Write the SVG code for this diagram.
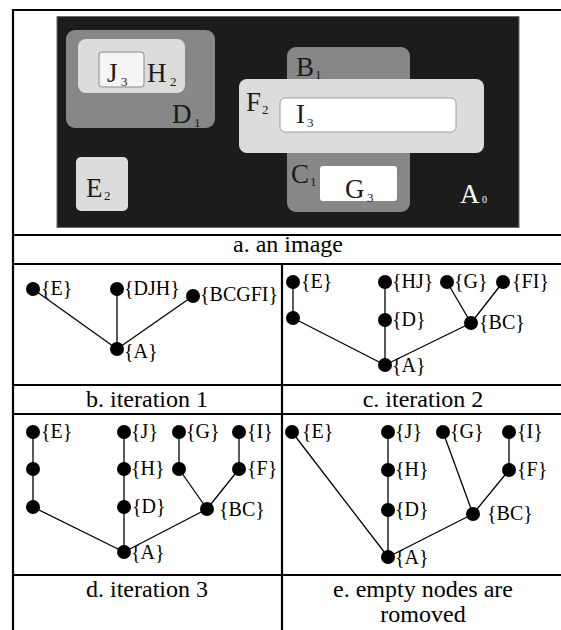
<svg xmlns="http://www.w3.org/2000/svg" width="561" height="630" viewBox="0 0 561 630">
<style>
  .grid { stroke: #000; stroke-width: 2.2; fill: none; }
  .edge { stroke: #000; stroke-width: 1.3; fill: none; }
  .node circle { fill: #000; }
  .lbl { font-family: "Liberation Serif", "DejaVu Serif", serif; font-size: 20px; fill: #000; }
  .cap { font-family: "Liberation Serif", "DejaVu Serif", serif; font-size: 24px; fill: #000; text-anchor: middle; }
  .reg { font-family: "Liberation Serif", "DejaVu Serif", serif; font-size: 27px; fill: #1a1a1a; }
  .sub { font-family: "Liberation Serif", "DejaVu Serif", serif; font-size: 13px; fill: #1a1a1a; }
  .gray { fill: #878787; }
  .light { fill: #dcdcdc; }
</style>
<rect width="561" height="630" fill="#fff"/>

<!-- table grid -->
<g id="table" class="grid">
  <line x1="13" y1="10" x2="561" y2="10"/>
  <line x1="13" y1="9" x2="13" y2="630"/>
  <line x1="13" y1="235" x2="561" y2="235"/>
  <line x1="13" y1="264" x2="561" y2="264"/>
  <line x1="13" y1="385" x2="561" y2="385"/>
  <line x1="13" y1="414" x2="561" y2="414"/>
  <line x1="13" y1="575" x2="561" y2="575"/>
  <line x1="282" y1="264" x2="282" y2="630"/>
</g>

<!-- segmented image with nested regions -->
<g id="image">
  <rect x="57" y="16.5" width="462" height="211" fill="#1c1c1c" stroke="#6a6a6a" stroke-width="1"/>
  <rect class="gray" x="66" y="30" width="149" height="98" rx="9"/>
  <rect class="light" x="78" y="39" width="107" height="54" rx="8"/>
  <rect x="99" y="52" width="45" height="35" rx="3" fill="#f4f4f4" stroke="#8a8a8a" stroke-width="1"/>
  <rect class="light" x="76" y="157" width="52" height="54" rx="5"/>
  <rect class="gray" x="287" y="47" width="123" height="165" rx="9"/>
  <rect class="light" x="239" y="79" width="245" height="74" rx="8"/>
  <rect x="280" y="98" width="176" height="34" rx="5" fill="#fff" stroke="#a0a0a0" stroke-width="1"/>
  <rect x="320" y="166" width="77" height="35" rx="3" fill="#fff"/>

  <text class="reg" x="107" y="82">J</text><text class="sub" x="121" y="86">3</text>
  <text class="reg" x="147" y="82">H</text><text class="sub" x="170" y="86">2</text>
  <text class="reg" x="172" y="123">D</text><text class="sub" x="194" y="127">1</text>
  <text class="reg" x="296" y="76">B</text><text class="sub" x="315" y="79">1</text>
  <text class="reg" x="246" y="111">F</text><text class="sub" x="262" y="114">2</text>
  <text class="reg" x="296" y="123">I</text><text class="sub" x="307" y="127">3</text>
  <text class="reg" x="291" y="183">C</text><text class="sub" x="310" y="186">1</text>
  <text class="reg" x="345" y="198">G</text><text class="sub" x="367" y="202">3</text>
  <text class="reg" x="86" y="197">E</text><text class="sub" x="104" y="200">2</text>
  <text class="reg" x="460" y="203" style="fill:#fff">A</text><text class="sub" x="482" y="203" style="fill:#fff;font-size:10px">0</text>
</g>

<!-- captions -->
<g id="captions">
  <text class="cap" x="288" y="252">a. an image</text>
  <text class="cap" x="147" y="407">b. iteration 1</text>
  <text class="cap" x="423" y="407">c. iteration 2</text>
  <text class="cap" x="147" y="597">d. iteration 3</text>
  <text class="cap" x="423" y="597">e. empty nodes are</text>
  <text class="cap" x="423" y="622">romoved</text>
</g>

<!-- tree edges -->
<g id="connectors" class="edge">
  <!-- b -->
  <line x1="33" y1="289" x2="117" y2="349"/>
  <line x1="117" y1="289" x2="117" y2="349"/>
  <line x1="193" y1="296" x2="117" y2="349"/>
  <!-- c -->
  <line x1="293" y1="282" x2="293" y2="318"/>
  <line x1="293" y1="318" x2="385" y2="365"/>
  <line x1="385" y1="282" x2="385" y2="365"/>
  <line x1="447" y1="282" x2="471" y2="323"/>
  <line x1="503" y1="282" x2="471" y2="323"/>
  <line x1="471" y1="323" x2="385" y2="365"/>
  <!-- d -->
  <line x1="33" y1="432" x2="33" y2="507"/>
  <line x1="33" y1="507" x2="124" y2="552"/>
  <line x1="124" y1="432" x2="124" y2="552"/>
  <line x1="179" y1="432" x2="179" y2="469"/>
  <line x1="179" y1="469" x2="207" y2="509"/>
  <line x1="239" y1="432" x2="239" y2="469"/>
  <line x1="239" y1="469" x2="207" y2="509"/>
  <line x1="207" y1="509" x2="124" y2="552"/>
  <!-- e -->
  <line x1="292" y1="432" x2="388" y2="557"/>
  <line x1="388" y1="432" x2="388" y2="557"/>
  <line x1="443" y1="432" x2="473" y2="514"/>
  <line x1="509" y1="432" x2="509" y2="470"/>
  <line x1="509" y1="470" x2="473" y2="514"/>
  <line x1="473" y1="514" x2="388" y2="557"/>
</g>

<!-- b. iteration 1 -->
<g id="tree-b" class="node">
  <g id="b-E"><circle cx="33" cy="289" r="7"/><text class="lbl" x="41" y="295">{E}</text></g>
  <g id="b-DJH"><circle cx="117" cy="289" r="7"/><text class="lbl" x="124" y="295">{DJH}</text></g>
  <g id="b-BCGFI"><circle cx="193" cy="296" r="7"/><text class="lbl" x="200" y="301">{BCGFI}</text></g>
  <g id="b-A"><circle cx="117" cy="349" r="7"/><text class="lbl" x="124" y="358">{A}</text></g>
</g>

<!-- c. iteration 2 -->
<g id="tree-c" class="node">
  <g id="c-E"><circle cx="293" cy="282" r="7"/><text class="lbl" x="301" y="288">{E}</text></g>
  <g id="c-e1"><circle cx="293" cy="318" r="7"/></g>
  <g id="c-HJ"><circle cx="385" cy="282" r="7"/><text class="lbl" x="392" y="288">{HJ}</text></g>
  <g id="c-D"><circle cx="385" cy="320" r="7"/><text class="lbl" x="392" y="326">{D}</text></g>
  <g id="c-G"><circle cx="447" cy="282" r="7"/><text class="lbl" x="454" y="288">{G}</text></g>
  <g id="c-FI"><circle cx="503" cy="282" r="7"/><text class="lbl" x="512" y="288">{FI}</text></g>
  <g id="c-BC"><circle cx="471" cy="323" r="7"/><text class="lbl" x="479" y="329">{BC}</text></g>
  <g id="c-A"><circle cx="385" cy="365" r="7"/><text class="lbl" x="392" y="372">{A}</text></g>
</g>

<!-- d. iteration 3 -->
<g id="tree-d" class="node">
  <g id="d-E"><circle cx="33" cy="432" r="7"/><text class="lbl" x="41" y="438">{E}</text></g>
  <g id="d-e1"><circle cx="33" cy="469" r="7"/></g>
  <g id="d-e2"><circle cx="33" cy="507" r="7"/></g>
  <g id="d-J"><circle cx="124" cy="432" r="7"/><text class="lbl" x="131" y="438">{J}</text></g>
  <g id="d-H"><circle cx="124" cy="469" r="7"/><text class="lbl" x="131" y="475">{H}</text></g>
  <g id="d-D"><circle cx="124" cy="507" r="7"/><text class="lbl" x="132" y="513">{D}</text></g>
  <g id="d-A"><circle cx="124" cy="552" r="7"/><text class="lbl" x="131" y="559">{A}</text></g>
  <g id="d-G"><circle cx="179" cy="432" r="7"/><text class="lbl" x="186" y="438">{G}</text></g>
  <g id="d-g1"><circle cx="179" cy="469" r="7"/></g>
  <g id="d-I"><circle cx="239" cy="432" r="7"/><text class="lbl" x="247" y="438">{I}</text></g>
  <g id="d-F"><circle cx="239" cy="469" r="7"/><text class="lbl" x="247" y="475">{F}</text></g>
  <g id="d-BC"><circle cx="207" cy="509" r="7"/><text class="lbl" x="219" y="516">{BC}</text></g>
</g>

<!-- e. empty nodes are removed -->
<g id="tree-e" class="node">
  <g id="e-E"><circle cx="292" cy="432" r="7"/><text class="lbl" x="302" y="438">{E}</text></g>
  <g id="e-J"><circle cx="388" cy="432" r="7"/><text class="lbl" x="395" y="438">{J}</text></g>
  <g id="e-H"><circle cx="388" cy="470" r="7"/><text class="lbl" x="395" y="476">{H}</text></g>
  <g id="e-D"><circle cx="388" cy="510" r="7"/><text class="lbl" x="395" y="516">{D}</text></g>
  <g id="e-A"><circle cx="388" cy="557" r="7"/><text class="lbl" x="395" y="564">{A}</text></g>
  <g id="e-G"><circle cx="443" cy="432" r="7"/><text class="lbl" x="450" y="438">{G}</text></g>
  <g id="e-I"><circle cx="509" cy="432" r="7"/><text class="lbl" x="517" y="438">{I}</text></g>
  <g id="e-F"><circle cx="509" cy="470" r="7"/><text class="lbl" x="517" y="476">{F}</text></g>
  <g id="e-BC"><circle cx="473" cy="514" r="7"/><text class="lbl" x="487" y="520">{BC}</text></g>
</g>
</svg>
